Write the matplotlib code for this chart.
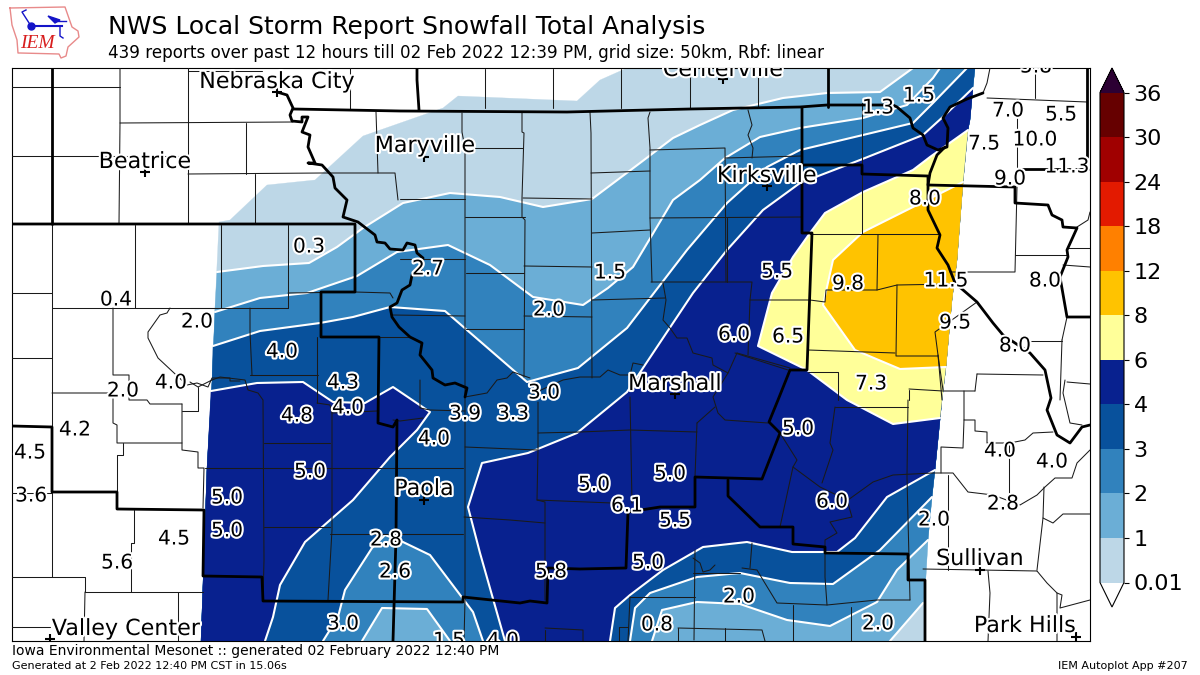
"""Recreate the IEM snowfall analysis map. Map coordinates are figure pixels."""
import matplotlib
matplotlib.use('Agg')
import matplotlib.pyplot as plt
import matplotlib.patheffects as pe
from matplotlib.cm import ScalarMappable
from matplotlib.colors import BoundaryNorm, ListedColormap
from matplotlib.patches import Polygon

# Colour scale
levels = [0.01, 1, 2, 3, 4, 6, 8, 12, 18, 24, 30, 36]
level_labels = ['0.01', '1', '2', '3', '4', '6', '8', '12', '18', '24', '30', '36']
level_colors = ['#bdd7e7', '#6baed6', '#3182bd', '#08519c', '#08218f', '#ffff99',
                '#ffc300', '#ff8000', '#e31a00', '#a00000', '#660000']

# Edge of the analysed grid
left_edge = [(219, 222), (215, 308), (212, 382), (207, 468), (201, 641)]
right_edge = [(975, 68), (973, 87), (970, 120), (968, 130), (963, 183), (957, 260),
              (952, 300), (946, 367), (942, 400), (940, 420), (935, 470), (932, 497),
              (928, 540), (925, 593), (924, 641)]

# Contour lines
c001_north = [(219, 222), (230, 220), (267, 185), (315, 180), (363, 136), (443, 108),
              (458, 96), (577, 101), (600, 80), (627, 68)]
c1_north = [(217, 272), (263, 266), (309, 263), (337, 247), (363, 228), (403, 203),
            (450, 193), (500, 197), (543, 207), (592, 199), (640, 163), (673, 138),
            (700, 125), (733, 110), (783, 98), (827, 93), (880, 92), (913, 68)]
c1_se = [(923, 603), (890, 641)]
c2_north = [(215, 312), (260, 298), (307, 293), (357, 276), (397, 252), (448, 245),
            (490, 265), (533, 297), (583, 305), (608, 288), (633, 267), (673, 200),
            (700, 180), (725, 158), (760, 137), (800, 128), (863, 118), (907, 105),
            (933, 78), (940, 68)]
c2_se = [(928, 540), (897, 570), (877, 602), (830, 626), (787, 620), (740, 604),
         (697, 602), (662, 610), (652, 641)]
c2_hole = [(450, 641), (427, 609), (382, 608), (362, 641)]
c3_north = [(213, 346), (260, 331), (320, 323), (353, 317), (390, 307), (445, 311),
            (527, 382), (578, 368), (627, 328), (687, 250), (727, 203), (767, 167),
            (800, 150), (863, 135), (913, 123), (933, 103), (967, 68)]
c3_se = [(932, 497), (880, 550), (833, 584), (790, 583), (740, 573), (697, 577),
         (650, 593), (635, 608), (630, 641)]
c3_bay = [(483, 641), (473, 612), (430, 555), (403, 542), (385, 535), (372, 548),
          (345, 590), (338, 617), (323, 641)]
c4_west = [(211, 391), (257, 383), (303, 382), (333, 402), (365, 403), (393, 387),
           (430, 412), (417, 430), (390, 457), (353, 500), (305, 542), (280, 585),
           (273, 617), (265, 641)]
c4_east = [(505, 641), (480, 553), (468, 507), (482, 463), (528, 453), (577, 433),
           (627, 392), (693, 293), (727, 250), (763, 210), (800, 183), (860, 160),
           (923, 135), (945, 115), (973, 88)]
c4_se = [(935, 470), (887, 497), (855, 538), (837, 552), (792, 552), (747, 542),
         (703, 547), (663, 570), (630, 595), (615, 608), (610, 641)]
c6 = [(968, 130), (930, 157), (913, 170), (863, 192), (825, 213), (810, 233),
      (793, 257), (772, 293), (758, 346), (807, 370), (847, 400), (893, 424), (940, 418)]
c8 = [(963, 182), (913, 207), (863, 232), (833, 260), (823, 305), (855, 350),
      (900, 369), (946, 367)]

# Thick state lines and big rivers
state_lines = [
    [(52, 68), (52, 224)],
    [(12, 224), (355, 224), (355, 292), (321, 292), (321, 337), (379, 337), (378, 423),
     (393, 427), (397, 420), (396, 537), (393, 641)],
    [(277, 92), (287, 95), (293, 108), (290, 115), (292, 121), (302, 122), (302, 117),
     (308, 117), (302, 132), (310, 135), (308, 147), (315, 163), (308, 163), (322, 165),
     (333, 177), (335, 188), (347, 200), (343, 217), (358, 222), (375, 235), (377, 242),
     (385, 243), (390, 249), (403, 250), (407, 243), (415, 245), (417, 253), (423, 258),
     (420, 275), (412, 275), (410, 285), (402, 290), (397, 303), (390, 307), (392, 317),
     (399, 327), (410, 337), (422, 343), (420, 355), (432, 370), (433, 378), (445, 385),
     (455, 383), (467, 388), (465, 397)],
    [(293, 109), (400, 111), (567, 112), (690, 109), (800, 107), (827, 105), (863, 105),
     (893, 105), (897, 107), (910, 118), (913, 128), (923, 135), (927, 145), (938, 150),
     (947, 147), (948, 128), (943, 118), (950, 107), (967, 99), (983, 93)],
    [(417, 68), (417, 80), (419, 110)],
    [(828, 68), (828, 107)],
    [(945, 147), (937, 155), (930, 173), (928, 185), (928, 210), (940, 235), (937, 248),
     (948, 265), (955, 283), (977, 302), (993, 323), (1003, 335), (1030, 353), (1045, 370),
     (1051, 398), (1047, 410), (1057, 435), (1070, 443), (1082, 427), (1090, 425)],
    [(802, 108), (802, 233), (812, 233), (807, 370), (790, 370), (778, 400), (769, 422),
     (780, 433), (762, 479), (695, 477), (695, 507), (660, 507), (628, 512), (626, 568),
     (580, 569), (548, 568), (547, 603), (530, 601), (520, 603), (463, 597), (463, 602),
     (263, 601), (262, 577), (203, 576), (204, 510), (117, 509), (117, 492), (52, 492),
     (52, 427), (12, 426)],
    [(728, 480), (728, 496), (760, 527), (793, 527), (793, 544), (825, 547), (825, 553),
     (908, 554), (908, 580), (925, 580), (925, 641)],
    [(802, 165), (862, 165), (862, 174), (928, 176), (928, 185), (1015, 187), (1015, 203),
     (1048, 205), (1052, 215), (1062, 220), (1063, 227), (1077, 228), (1067, 250),
     (1068, 257), (1060, 277), (1067, 317), (1090, 317)],
    [(1020, 169), (1088, 169)],
    [(1087, 68), (1087, 157)],
]

# County lines and small rivers
county_lines = [
    [(12, 87), (120, 87)], [(120, 68), (120, 123), (119, 224)], [(120, 123), (293, 122)],
    [(188, 68), (188, 224)], [(12, 156), (188, 156)], [(246, 123), (246, 174)],
    [(188, 174), (322, 173), (395, 173), (398, 200)], [(255, 174), (255, 224)],
    [(350, 68), (350, 109)], [(376, 112), (378, 173)], [(188, 71), (262, 71)],
    [(485, 69), (485, 108)], [(553, 69), (553, 108)], [(621, 69), (621, 108)],
    [(690, 68), (690, 108)], [(758, 68), (758, 107)],
    [(462, 113), (462, 132), (465, 148), (465, 600), (464, 641)],
    [(522, 113), (522, 132), (524, 133), (522, 198), (522, 217), (525, 220), (524, 377)],
    [(590, 112), (591, 133), (592, 378)],
    [(650, 112), (648, 118), (650, 148), (650, 218), (652, 282)],
    [(748, 110), (752, 125), (748, 135), (753, 148), (752, 158)],
    [(650, 150), (725, 148), (726, 282)], [(650, 218), (802, 217)], [(725, 158), (802, 156)],
    [(591, 173), (650, 171)], [(592, 233), (650, 230)], [(465, 148), (523, 148)],
    [(523, 198), (592, 199)], [(465, 217), (525, 217)], [(466, 273), (524, 273)],
    [(524, 266), (592, 267)], [(400, 199), (465, 199)], [(400, 259), (465, 259)],
    [(651, 282), (752, 282), (750, 300), (748, 355)], [(592, 300), (665, 298)],
    [(663, 283), (666, 300), (663, 320), (670, 328), (677, 338), (687, 338), (693, 353),
     (712, 358), (713, 365), (728, 373), (713, 397), (718, 413), (725, 420), (768, 423)],
    [(466, 329), (524, 329)], [(524, 316), (592, 317)], [(392, 315), (465, 316)],
    [(465, 397), (487, 393), (497, 380), (507, 378), (513, 372), (530, 378)],
    [(530, 395), (563, 380), (580, 377), (600, 377), (608, 370), (620, 375), (630, 375),
     (633, 363), (643, 365)],
    [(538, 402), (538, 450), (537, 500), (545, 502), (545, 600)],
    [(538, 433), (580, 432), (630, 430), (697, 432)], [(630, 397), (632, 503)],
    [(697, 423), (695, 477)], [(697, 423), (715, 407)], [(737, 353), (728, 373)],
    [(737, 353), (790, 368)], [(465, 447), (537, 450)], [(420, 380), (420, 408), (430, 410), (465, 411)],
    [(221, 225), (221, 308)], [(288, 225), (288, 308)], [(190, 308), (288, 308)],
    [(250, 308), (250, 332), (252, 375)], [(250, 375), (318, 375)], [(317, 337), (317, 403)],
    [(288, 293), (355, 292), (390, 293), (393, 298)],
    [(190, 382), (198, 387), (212, 380), (220, 377), (245, 380), (248, 390), (258, 393),
     (263, 400), (264, 560), (263, 600)],
    [(317, 403), (330, 405), (332, 413), (377, 411)], [(393, 420), (400, 421), (423, 418)],
    [(380, 337), (410, 337)], [(332, 413), (332, 530), (328, 600)],
    [(205, 468), (463, 468)], [(264, 443), (330, 443)], [(264, 527), (330, 527)],
    [(330, 534), (463, 534)], [(464, 517), (510, 520), (545, 523)], [(537, 500), (612, 503)],
    [(545, 630), (545, 641)], [(545, 628), (583, 630), (583, 641)],
    [(835, 407), (830, 443), (833, 450), (822, 483)], [(835, 407), (908, 407)],
    [(908, 400), (907, 477), (910, 600)],
    [(780, 433), (797, 460), (793, 467), (820, 487), (847, 500), (852, 517), (830, 522),
     (837, 533), (825, 540), (825, 547)],
    [(848, 500), (873, 482), (893, 475), (933, 473), (953, 473), (968, 492), (993, 495),
     (1020, 505), (1037, 495), (1045, 487), (1055, 478), (1072, 478), (1077, 463), (1090, 450)],
    [(780, 527), (793, 467)], [(695, 550), (694, 640)],
    [(693, 558), (700, 563), (703, 572), (710, 570), (715, 565)],
    [(742, 568), (757, 570), (763, 580), (777, 603), (827, 605), (877, 600), (910, 600)],
    [(752, 543), (750, 568)], [(693, 573), (740, 573)], [(825, 553), (825, 577), (827, 605)],
    [(630, 597), (695, 597)], [(630, 597), (628, 641)], [(678, 628), (762, 630), (765, 641)],
    [(678, 628), (678, 641)], [(725, 628), (725, 641)], [(793, 605), (793, 641)],
    [(851, 607), (851, 641)], [(619, 627), (628, 627)], [(619, 627), (619, 641)],
    [(909, 389), (943, 391), (975, 391)], [(938, 355), (943, 390)],
    [(964, 391), (964, 420), (975, 420), (975, 431), (987, 432), (987, 443), (1010, 443),
     (1025, 440), (1033, 433), (1053, 432)],
    [(977, 374), (975, 391)], [(977, 374), (1043, 375)],
    [(964, 420), (963, 448), (941, 447), (941, 473)], [(1009, 443), (1009, 497)],
    [(948, 475), (948, 570)], [(1044, 487), (1043, 518), (1037, 570)],
    [(1043, 518), (1053, 523), (1063, 514), (1090, 514)], [(923, 569), (1037, 571)],
    [(988, 571), (990, 593), (988, 641)], [(1037, 571), (1047, 583), (1057, 593), (1057, 641)],
    [(1057, 593), (1062, 595), (1060, 608), (1090, 600)],
    [(1065, 380), (1063, 393), (1070, 423), (1082, 425)], [(1067, 382), (1090, 384)],
    [(1017, 118), (1017, 167)], [(1035, 68), (1035, 98)], [(987, 98), (1087, 102)],
    [(983, 93), (987, 83), (990, 68)], [(1017, 187), (1015, 272), (950, 272)], [(1015, 255), (1067, 255)],
    [(1067, 248), (1090, 248)], [(1063, 265), (1090, 267)], [(1077, 227), (1088, 220), (1090, 212)],
    [(1062, 340), (1067, 317)], [(1062, 340), (1060, 400)], [(1030, 341), (1062, 341)],
    [(977, 302), (935, 332), (938, 355), (942, 400)],
    [(750, 300), (810, 300), (825, 302), (826, 290), (877, 290), (897, 285), (953, 284)],
    [(878, 235), (877, 290)], [(810, 234), (938, 234)], [(862, 103), (862, 234)],
    [(897, 285), (896, 356), (938, 356)], [(808, 350), (895, 353)], [(727, 217), (727, 282)],
    [(808, 372), (838, 372), (838, 400)], [(909, 390), (909, 400)], [(735, 353), (788, 370)],
    [(52, 225), (52, 427)], [(12, 293), (52, 293)], [(12, 358), (52, 358)], [(135, 225), (135, 308)],
    [(52, 308), (215, 308)],
    [(113, 308), (113, 375), (129, 375), (129, 400), (147, 400), (150, 404), (182, 404)],
    [(170, 308), (167, 313), (160, 315), (148, 332), (148, 338), (158, 358), (173, 372),
     (187, 385), (197, 383), (208, 387), (212, 378), (230, 378), (230, 381), (240, 381)],
    [(52, 393), (113, 393), (113, 423), (117, 425), (117, 443), (182, 443)],
    [(182, 404), (182, 450), (198, 452), (198, 468), (204, 468), (203, 508)],
    [(182, 411), (198, 411), (198, 387)], [(123, 443), (123, 455), (117, 455), (117, 492)],
    [(12, 493), (52, 493), (52, 577)], [(12, 577), (85, 577), (85, 592)], [(85, 592), (203, 592)],
    [(85, 592), (84, 641)], [(134, 510), (134, 543), (131, 543), (131, 592)], [(178, 592), (178, 641)],
    [(12, 627), (50, 627)],
]

# Report values
value_labels = ['0.3', '0.4', '2.0', '2.7', '1.5', '2.0', '4.0', '2.0', '4.0', '4.3', '4.8',
                '4.0', '3.9', '3.3', '3.0', '4.0', '5.0', '5.0', '5.0', '4.2', '4.5', '3.6', '5.6',
                '4.5', '2.8', '2.6', '3.0', '1.5', '4.0', '5.0', '6.1', '5.0', '5.5', '5.0', '5.8',
                '0.8', '2.0', '2.0', '6.0', '5.0', '2.0', '4.0', '4.0', '2.8', '6.0', '6.5', '5.5',
                '7.3', '9.8', '9.5', '8.0', '11.5', '8.0', '8.0', '9.0', '11.3', '10.0', '7.5',
                '7.0', '5.5', '1.3', '1.5', '5.8']
value_x = [309, 116, 197, 428, 610, 549, 282, 123, 171, 343, 297,
           348, 465, 513, 544, 434, 310, 227, 227, 75, 30, 31, 117,
           174, 386, 395, 343, 449, 503, 594, 627, 670, 675, 648, 551,
           657, 739, 878, 832, 798, 934, 1000, 1052, 1003, 734, 788, 777,
           871, 848, 955, 1015, 946, 1045, 925, 1010, 1067, 1035, 984,
           1008, 1061, 878, 919, 1036]
value_y = [247, 300, 322, 269, 273, 310, 352, 391, 383, 383, 416,
           408, 414, 414, 393, 439, 472, 498, 531, 430, 453, 496, 563,
           539, 540, 572, 624, 641, 641, 485, 506, 474, 521, 563, 572,
           625, 597, 624, 502, 429, 520, 451, 462, 504, 335, 337, 272,
           384, 284, 323, 346, 281, 281, 199, 179, 167, 140, 144,
           111, 115, 108, 96, 67]

# Towns
city_names = ['Nebraska City', 'Beatrice', 'Maryville', 'Centerville', 'Kirksville',
              'Marshall', 'Paola', 'Sullivan', 'Park Hills', 'Valley Center']
city_x = [277, 145, 424, 723, 767, 675, 424, 980, 1076, 50]
city_y = [92, 172, 157, 79, 186, 394, 500, 570, 637, 639]
city_label_x = [277, 145, 425, 723, 767, 675, 424, 980, 1025, 126]
city_label_y = [82, 162, 146, 70, 176, 384, 489, 559, 626, 629]

# Logo outline
iowa_x = [10, 65, 72, 78, 79, 68, 66, 61, 59, 20, 18, 17, 12, 10]
iowa_y = [8, 7, 27, 31, 37, 47, 56, 58, 54, 53, 53, 40, 25, 8]


def edge_part(edge, y_from, y_to):
    """Edge points lying between two heights, ordered from y_from to y_to."""
    low, high = min(y_from, y_to), max(y_from, y_to)
    part = [p for p in edge if low < p[1] < high]
    return part if y_from < y_to else part[::-1]


def add_fill(ax, points, color):
    ax.add_patch(Polygon(points, closed=True, facecolor=color, edgecolor=color, lw=0.2, zorder=1))


def draw_lines(ax, lines, color, lw, zorder):
    for line in lines:
        ax.plot([p[0] for p in line], [p[1] for p in line], color=color, lw=lw,
                zorder=zorder, solid_capstyle='round', solid_joinstyle='round')


fig = plt.figure(figsize=(12, 6.75), dpi=100)
ax = fig.add_axes([12 / 1200, 1 - 641 / 675, 1078 / 1200, 573 / 675])
ax.set_xlim(12, 1090)
ax.set_ylim(641, 68)
ax.set_xticks([])
ax.set_yticks([])

# filled bands, painted from low to high
add_fill(ax, c001_north + edge_part(right_edge, 67, 642) + [(924, 641), (201, 641)]
         + edge_part(left_edge, 641, 222), level_colors[0])
add_fill(ax, c1_north + [(975, 68)] + edge_part(right_edge, 68, 603) + c1_se + [(201, 641)]
         + edge_part(left_edge, 641, 272), level_colors[1])
add_fill(ax, c2_north + [(975, 68)] + edge_part(right_edge, 68, 540) + c2_se + c2_hole + [(201, 641)]
         + edge_part(left_edge, 641, 312), level_colors[2])
add_fill(ax, c3_north + [(975, 68)] + edge_part(right_edge, 68, 497) + c3_se + c3_bay + [(201, 641)]
         + edge_part(left_edge, 641, 346), level_colors[3])
add_fill(ax, c4_west + [(201, 641)] + edge_part(left_edge, 641, 391), level_colors[4])
add_fill(ax, c4_east + edge_part(right_edge, 88, 470) + c4_se, level_colors[4])
add_fill(ax, c6 + edge_part(right_edge, 418, 130), level_colors[5])
add_fill(ax, c8 + edge_part(right_edge, 367, 182), level_colors[6])

contours = [c1_north, c1_se, c2_north, c2_se, c2_hole, c3_north, c3_se, c3_bay,
            c4_west, c4_east, c4_se, c6, c8]
draw_lines(ax, contours, 'white', 1.5, 2)
draw_lines(ax, county_lines, '#1a1a1a', 0.75, 3)
draw_lines(ax, state_lines, 'black', 2.0, 4)

halo = [pe.withStroke(linewidth=3, foreground='white')]
for label, x, y in zip(value_labels, value_x, value_y):
    ax.text(x, y, label, fontsize=14.5, ha='center', va='center', zorder=6,
            path_effects=halo, clip_on=True)
ax.plot(city_x, city_y, '+', color='black', ms=7, mew=1.5, zorder=5, clip_on=True)
for name, x, y in zip(city_names, city_label_x, city_label_y):
    ax.text(x, y, name, fontsize=16, ha='center', va='center', zorder=6,
            path_effects=halo, clip_on=True)

# Colour bar, its axes also hold both end triangles
cmap = ListedColormap(level_colors)
cmap.set_under('white')
cmap.set_over('#2c0033')
norm = BoundaryNorm(levels, cmap.N)
cax = fig.add_axes([1100 / 1200, 1 - 607 / 675, 24 / 1200, 539 / 675])
cbar = fig.colorbar(ScalarMappable(norm=norm, cmap=cmap), cax=cax, extend='both',
                    spacing='uniform', ticks=levels)
cbar.ax.set_yticklabels(level_labels, fontsize=16)

# Header and footer
fig.text(108 / 1200, 1 - 27 / 675, 'NWS Local Storm Report Snowfall Total Analysis',
         fontsize=18, va='center')
fig.text(108 / 1200, 1 - 53 / 675,
         '439 reports over past 12 hours till 02 Feb 2022 12:39 PM, grid size: 50km, Rbf: linear',
         fontsize=12.05, va='center')
fig.text(12 / 1200, 1 - 651 / 675,
         'Iowa Environmental Mesonet :: generated 02 February 2022 12:40 PM', fontsize=10, va='center')
fig.text(12 / 1200, 1 - 666 / 675, 'Generated at 2 Feb 2022 12:40 PM CST in 15.06s',
         fontsize=8, va='center')
fig.text(1188 / 1200, 1 - 666 / 675, 'IEM Autoplot App #207', fontsize=8, va='center', ha='right')

# IEM logo
logo = fig.add_axes([0, 1 - 62 / 675, 90 / 1200, 62 / 675])
logo.set_xlim(0, 90)
logo.set_ylim(62, 0)
logo.axis('off')
logo.plot(iowa_x, iowa_y, color='#e88a8a', lw=1)
logo.plot([31, 62], [26, 26], color='#1414c8', lw=1.5)
logo.plot([31], [26], 'o', color='#1414c8', ms=5)
logo.plot([31, 22, 26], [26, 12, 10], color='#1414c8', lw=1)
logo.fill([48, 60, 55], [16, 20, 23], color='#1414c8')
logo.plot([57, 66], [21, 21], color='#1414c8', lw=1)
logo.plot([60, 60, 63], [26, 36, 38], color='#1414c8', lw=1)
logo.text(37, 44, 'IEM', family='Liberation Serif', style='italic', color='#d81e1e',
          fontsize=14, ha='center', va='center')

fig.savefig('out.png', dpi=100)
